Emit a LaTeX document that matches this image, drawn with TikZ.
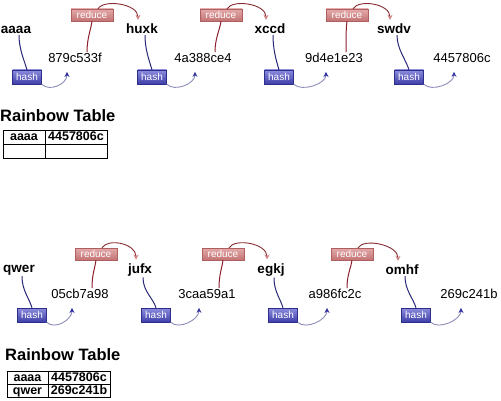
\documentclass[tikz,border=0pt]{standalone}
\usepackage{fontspec}
\setmainfont{Liberation Sans}
\usepackage{tikz}
\usetikzlibrary{arrows.meta}
\usepackage{xcolor}
\definecolor{hashtop}{RGB}{140,140,222}
\definecolor{hashbot}{RGB}{62,62,168}
\definecolor{hashedge}{RGB}{45,45,140}
\definecolor{hashdark}{RGB}{40,40,120}
\definecolor{hashfade}{RGB}{140,140,185}
\definecolor{hashtip}{RGB}{50,50,160}
\definecolor{redtop}{RGB}{228,170,170}
\definecolor{redbot}{RGB}{195,115,115}
\definecolor{rededge}{RGB}{175,95,95}
\definecolor{reddark}{RGB}{140,30,45}
\definecolor{redfade}{RGB}{135,45,50}
\definecolor{redtip}{RGB}{210,130,130}

\begin{document}
\begin{tikzpicture}[x=1pt,y=-1pt]
\tikzset{
    word/.style={%
        font=\fontsize{13.5}{13.5}\selectfont\bfseries,
        inner sep=1pt
        },
    val/.style={%
        font=\fontsize{13}{13}\selectfont,
        inner sep=1pt
        },
    hashbox/.style={%
        draw=hashedge, rectangle,
        top color=hashtop, bottom color=hashbot,
        text=white, font=\fontsize{10}{10}\selectfont,
        minimum width=29pt, minimum height=14pt, inner sep=0pt
        },
    reducebox/.style={%
        draw=rededge, rectangle,
        top color=redtop, bottom color=redbot,
        text=white, font=\fontsize{10}{10}\selectfont,
        minimum width=42pt, minimum height=12pt, inner sep=0pt
        },
    hashline/.style={draw=hashdark, line width=1pt},
    hasharrow/.style={draw=hashfade, line width=0.9pt,
        -{Stealth[length=5pt,width=5pt,color=hashtip]}},
    reduceline/.style={draw=reddark, line width=1pt},
    reducearrow/.style={draw=redfade, line width=0.9pt,
        -{Stealth[length=5pt,width=5pt,color=redtip]}},
    title/.style={%
        font=\fontsize{16.5}{16.5}\selectfont\bfseries,
        inner sep=0pt, anchor=west
        },
    cell/.style={%
        draw=black, line width=0.8pt,
        font=\fontsize{12.5}{12.5}\selectfont\bfseries,
        text height=8.5pt, text depth=1.5pt,
        inner sep=0pt
        },
}
\useasboundingbox (0,0) rectangle (501,401);
%%%TOP CHAIN
\node[word] (w1) at (16,30) {aaaa};
\node[word] (w2) at (142,29) {huxk};
\node[word] (w3) at (270,29) {xccd};
\node[word] (w4) at (394,29) {swdv};
\node[hashbox] (h1) at (27,77) {hash};
\node[hashbox] (h2) at (152,77) {hash};
\node[hashbox] (h3) at (279,77) {hash};
\node[hashbox] (h4) at (409,77) {hash};
\node[val] (v1) at (75,58) {879c533f};
\node[val] (v2) at (203,58) {4a388ce4};
\node[val] (v3) at (334,58) {9d4e1e23};
\node[val] (v4) at (462,58) {4457806c};
\node[reducebox] (r1) at (92,15) {reduce};
\node[reducebox] (r2) at (221,15) {reduce};
\node[reducebox] (r3) at (347,15) {reduce};
%%%BOTTOM CHAIN
\node[word] (w5) at (19,270) {qwer};
\node[word] (w6) at (140,270) {jufx};
\node[word] (w7) at (271,270) {egkj};
\node[word] (w8) at (402,270) {omhf};
\node[hashbox] (h5) at (32,315) {hash};
\node[hashbox] (h6) at (156,315) {hash};
\node[hashbox] (h7) at (283,315) {hash};
\node[hashbox] (h8) at (416,315) {hash};
\node[val] (v5) at (80,294) {05cb7a98};
\node[val] (v6) at (207,294) {3caa59a1};
\node[val] (v7) at (335,294) {a986fc2c};
\node[val] (v8) at (469,294) {269c241b};
\node[reducebox] (r5) at (96,254) {reduce};
\node[reducebox] (r6) at (223,254) {reduce};
\node[reducebox] (r7) at (352,254) {reduce};
%%%HASH STEPS
\draw[hashline] ([xshift=3pt]w1.south) .. controls +(0,14) and +(-3,-10) .. (h1.north);
\draw[hashline] ([xshift=3pt]w2.south) .. controls +(0,14) and +(-3,-10) .. (h2.north);
\draw[hashline] ([xshift=3pt]w3.south) .. controls +(0,14) and +(-3,-10) .. (h3.north);
\draw[hashline] ([xshift=3pt]w4.south) .. controls +(0,14) and +(-3,-10) .. (h4.north);
\draw[hashline] ([xshift=3pt]w5.south) .. controls +(0,14) and +(-3,-10) .. (h5.north);
\draw[hashline] ([xshift=3pt]w6.south) .. controls +(0,14) and +(-3,-10) .. (h6.north);
\draw[hashline] ([xshift=3pt]w7.south) .. controls +(0,14) and +(-3,-10) .. (h7.north);
\draw[hashline] ([xshift=3pt]w8.south) .. controls +(0,14) and +(-3,-10) .. (h8.north);
\draw[hasharrow] (h1.south east) .. controls +(8,8) and +(0,12) .. ([xshift=-8pt,yshift=-8pt]v1.south);
\draw[hasharrow] (h2.south east) .. controls +(8,8) and +(0,12) .. ([xshift=-8pt,yshift=-8pt]v2.south);
\draw[hasharrow] (h3.south east) .. controls +(8,8) and +(0,12) .. ([xshift=-8pt,yshift=-8pt]v3.south);
\draw[hasharrow] (h4.south east) .. controls +(8,8) and +(0,12) .. ([xshift=-8pt,yshift=-8pt]v4.south);
\draw[hasharrow] (h5.south east) .. controls +(8,8) and +(0,12) .. ([xshift=-8pt,yshift=-8pt]v5.south);
\draw[hasharrow] (h6.south east) .. controls +(8,8) and +(0,12) .. ([xshift=-8pt,yshift=-8pt]v6.south);
\draw[hasharrow] (h7.south east) .. controls +(8,8) and +(0,12) .. ([xshift=-8pt,yshift=-8pt]v7.south);
\draw[hasharrow] (h8.south east) .. controls +(8,8) and +(0,12) .. ([xshift=-8pt,yshift=-8pt]v8.south);
%%%REDUCE STEPS
\draw[reduceline] ([xshift=12pt]v1.north) .. controls +(0,-14) and +(-1,8) .. (r1.south);
\draw[reduceline] ([xshift=12pt]v2.north) .. controls +(0,-14) and +(-1,8) .. (r2.south);
\draw[reduceline] ([xshift=12pt]v3.north) .. controls +(0,-14) and +(-1,8) .. (r3.south);
\draw[reduceline] ([xshift=12pt]v5.north) .. controls +(0,-14) and +(-1,8) .. (r5.south);
\draw[reduceline] ([xshift=12pt]v6.north) .. controls +(0,-14) and +(-1,8) .. (r6.south);
\draw[reduceline] ([xshift=12pt]v7.north) .. controls +(0,-14) and +(-1,8) .. (r7.south);
\draw[reducearrow] ([xshift=6pt]r1.north) .. controls +(6,-10) and +(0,-16) .. ([xshift=-4pt,yshift=3pt]w2.north);
\draw[reducearrow] ([xshift=6pt]r2.north) .. controls +(6,-10) and +(0,-16) .. ([xshift=-4pt,yshift=3pt]w3.north);
\draw[reducearrow] ([xshift=6pt]r3.north) .. controls +(6,-10) and +(0,-16) .. ([xshift=-4pt,yshift=3pt]w4.north);
\draw[reducearrow] ([xshift=6pt]r5.north) .. controls +(6,-10) and +(0,-16) .. ([xshift=-4pt,yshift=3pt]w6.north);
\draw[reducearrow] ([xshift=6pt]r6.north) .. controls +(6,-10) and +(0,-16) .. ([xshift=-4pt,yshift=3pt]w7.north);
\draw[reducearrow] ([xshift=6pt]r7.north) .. controls +(6,-10) and +(0,-16) .. ([xshift=-4pt,yshift=3pt]w8.north);
%%%RAINBOW TABLES
\node[title] (t1) at (0,116) {Rainbow Table};
\node[cell, minimum width=42pt, minimum height=14pt] (t1a) at (24,137) {aaaa};
\node[cell, minimum width=62pt, minimum height=14pt] (t1b) at (76,137) {4457806c};
\node[cell, minimum width=42pt, minimum height=14pt] (t1c) at (24,151) {};
\node[cell, minimum width=62pt, minimum height=14pt] (t1d) at (76,151) {};
\node[title] (t2) at (5,355) {Rainbow Table};
\node[cell, minimum width=41pt, minimum height=13pt] (t2a) at (27.5,377.5) {aaaa};
\node[cell, minimum width=62pt, minimum height=13pt] (t2b) at (79,377.5) {4457806c};
\node[cell, minimum width=41pt, minimum height=13pt] (t2c) at (27.5,390.5) {qwer};
\node[cell, minimum width=62pt, minimum height=13pt] (t2d) at (79,390.5) {269c241b};
\end{tikzpicture}
\end{document}
